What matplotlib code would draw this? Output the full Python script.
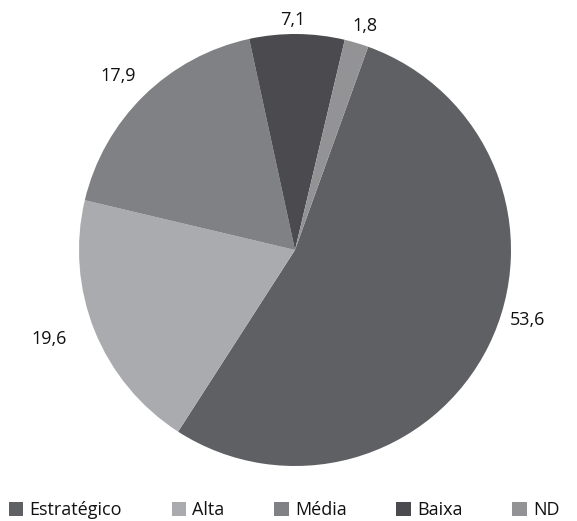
import matplotlib
matplotlib.use("Agg")
import matplotlib.pyplot as plt
from matplotlib.patches import Patch
import numpy as np

categories = ["Estratégico", "Alta", "Média", "Baixa", "ND"]
values = [53.6, 19.6, 17.9, 7.1, 1.8]
value_labels = ["53,6", "19,6", "17,9", "7,1", "1,8"]
colors = ["#5f6064", "#a9abae", "#808185", "#4b4b4f", "#939396"]

# label layout (distance in radii, angle offset in degrees)
label_dist = [1.125, 1.21, 1.15, 1.065, 1.087]
label_dang = [9.6, -2.0, 1.0, 1.2, -0.8]

plt.rcParams['font.family'] = ['Open Sans', 'DejaVu Sans']

fig = plt.figure(figsize=(5.77, 5.21), dpi=100)
W, H = 577, 521
cx, cy, r = 295, 250, 216
ax = fig.add_axes([(cx - r) / W, (H - cy - r) / H, 2 * r / W, 2 * r / H])

wedges, _ = ax.pie(values, colors=colors, startangle=70.2, counterclock=False,
                   radius=1, wedgeprops=dict(linewidth=0))
ax.set_xlim(-1, 1)
ax.set_ylim(-1, 1)
ax.set_aspect('auto')
ax.axis('off')

for w, lab, d, da in zip(wedges, value_labels, label_dist, label_dang):
    th = np.deg2rad((w.theta1 + w.theta2) / 2 + da)
    ax.text(d * np.cos(th), d * np.sin(th), lab, ha='center', va='center',
            fontsize=13, color='#111111', clip_on=False)

handles = [Patch(facecolor=c, edgecolor='none') for c in colors]
fig.legend(handles, categories, loc='lower left', bbox_to_anchor=(0.012, 0.0),
           ncol=5, frameon=False, fontsize=13, handlelength=0.8, handleheight=0.8,
           handletextpad=0.35, columnspacing=2.75, borderaxespad=0.0, borderpad=0.1,
           labelcolor='#111111')

fig.savefig("out.png", dpi=100, facecolor='white')
